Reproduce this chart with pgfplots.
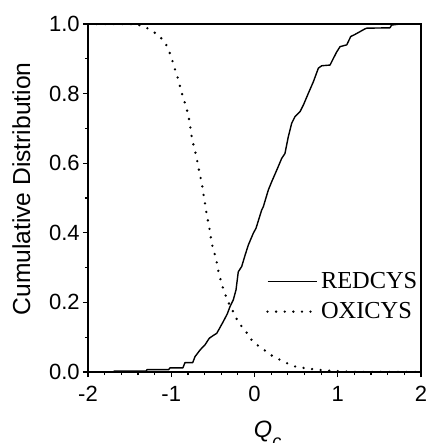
\documentclass[border=0pt]{standalone}
\usepackage{fontspec}
\setmainfont{Liberation Sans}
\newfontfamily\timesfont{Liberation Serif}
\usepackage{pgfplots}
\pgfplotsset{compat=1.18}

\begin{document}
\begin{tikzpicture}
\begin{axis}[
  name=ax,
  scale only axis,
  width=166.5pt, height=174pt,
  xmin=-2, xmax=2, ymin=0, ymax=1,
  xtick={-2,-1,0,1,2},
  ytick={0,0.2,0.4,0.6,0.8,1.0},
  minor x tick num=4,
  minor y tick num=1,
  tick align=outside,
  xtick pos=bottom, ytick pos=left,
  major tick length=2.6pt,
  minor tick length=1.6pt,
  axis line style={line width=0.7pt},
  every tick/.style={black, line width=0.6pt},
  tick label style={font=\fontsize{11}{13}\selectfont},
  /pgf/number format/assume math mode=true,
  yticklabel style={/pgf/number format/.cd, fixed, fixed zerofill, precision=1, /tikz/xshift=2pt},
  xticklabel style={yshift=-1pt},
  xlabel={{\fontsize{11.8}{14}\selectfont\textit{Q}\raisebox{-4.8pt}{\fontsize{9}{10}\selectfont\textit{c}}}},
  xlabel style={at={(axis description cs:0.477,0)}, anchor=base west, yshift=-33pt},
  ylabel={Cumulative Distribution},
  ylabel style={font=\fontsize{12.3}{14}\selectfont, at={(axis description cs:-0.174,0.526)}, anchor=base},
  legend style={draw=none, fill=none, at={(0.516,0.2165)}, anchor=west,
    font=\timesfont\fontsize{12.2}{14}\selectfont, row sep=2.2pt,
    nodes={inner sep=1.6pt}},
  legend cell align=left,
  legend image code/.code={\draw[#1] (0pt,0pt) -- (24.5pt,0pt);},
]
\addplot[black, line width=0.7pt, line join=round] coordinates {
(-2,0) (-1.70,0) (-1.68,0.003) (-1.30,0.003) (-1.29,0.007) (-1.03,0.007)
(-1.015,0.012) (-0.86,0.012) (-0.835,0.027) (-0.742,0.027) (-0.715,0.044)
(-0.655,0.063) (-0.595,0.078) (-0.543,0.097) (-0.495,0.105) (-0.454,0.111)
(-0.414,0.128) (-0.375,0.145) (-0.327,0.167) (-0.294,0.188) (-0.255,0.207)
(-0.222,0.236) (-0.195,0.288) (-0.154,0.303) (-0.114,0.335) (-0.074,0.365)
(-0.014,0.399) (0.018,0.413) (0.087,0.466) (0.106,0.475) (0.166,0.523)
(0.207,0.547) (0.267,0.580) (0.327,0.614) (0.366,0.628) (0.406,0.676)
(0.447,0.715) (0.487,0.734) (0.547,0.748) (0.587,0.767) (0.647,0.801)
(0.707,0.834) (0.767,0.873) (0.807,0.880) (0.907,0.882) (0.947,0.901)
(0.988,0.920) (1.028,0.935) (1.108,0.940) (1.156,0.964) (1.207,0.970)
(1.267,0.978) (1.327,0.986) (1.348,0.988) (1.627,0.989) (1.647,0.997)
(1.75,1.0) (2,1.0)
};
\addlegendentry{REDCYS}
\addplot[black, line width=1.3pt, line cap=round, dash pattern=on 0pt off 4.3pt] coordinates {
(-2,1) (-1.435,1.0) (-1.327,0.993) (-1.235,0.981) (-1.144,0.966) (-1.067,0.944)
(-1.023,0.92) (-0.987,0.895) (-0.955,0.869) (-0.919,0.843) (-0.891,0.817)
(-0.859,0.79) (-0.823,0.763) (-0.795,0.738) (-0.775,0.712) (-0.763,0.686)
(-0.739,0.659) (-0.711,0.632) (-0.687,0.606) (-0.667,0.58) (-0.643,0.553)
(-0.622,0.527) (-0.607,0.501) (-0.586,0.473) (-0.571,0.447) (-0.547,0.422)
(-0.531,0.396) (-0.514,0.369) (-0.483,0.344) (-0.454,0.315) (-0.434,0.29)
(-0.406,0.264) (-0.375,0.238) (-0.334,0.212) (-0.29,0.188) (-0.246,0.169)
(-0.195,0.142) (-0.114,0.121) (-0.054,0.097) (0.018,0.08) (0.106,0.065)
(0.195,0.049) (0.298,0.036) (0.394,0.025) (0.498,0.015) (0.607,0.011)
(0.707,0.008) (0.826,0.005) (0.93,0.003) (1.1,0.001) (1.3,0) (2,0)
};
\addlegendentry{OXICYS}
\end{axis}
\pgfresetboundingbox
\path[use as bounding box] ([shift={(-44pt,-35.5pt)}]ax.south west) rectangle ([shift={(3.5pt,12pt)}]ax.north east);
\end{tikzpicture}
\end{document}
